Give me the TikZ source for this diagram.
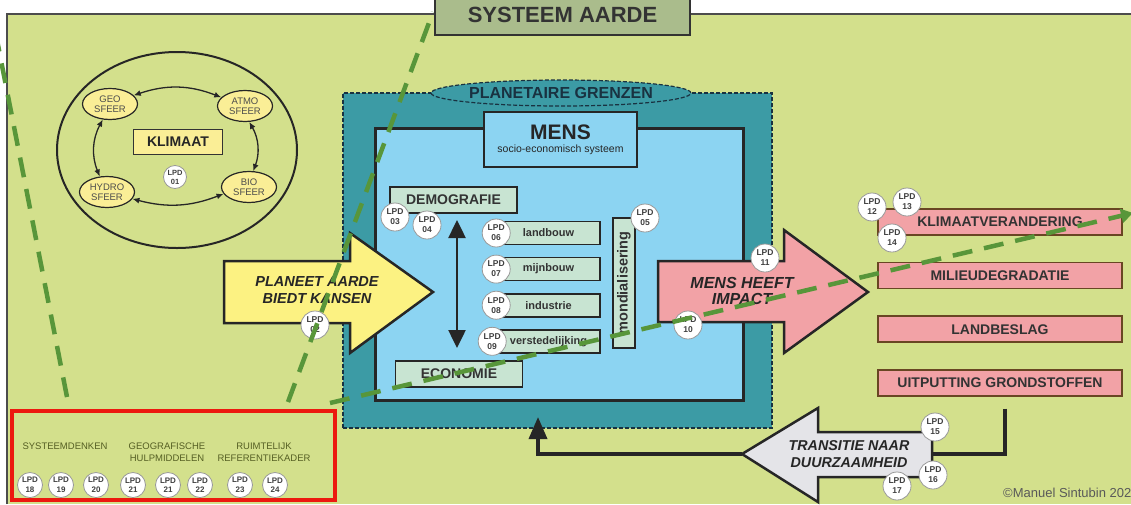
\documentclass[tikz,border=0pt]{standalone}
\usepackage{fontspec}
\setmainfont{Liberation Sans}
\usetikzlibrary{shapes.geometric, arrows.meta, positioning, calc}

\definecolor{aarde}{RGB}{211,224,140}
\definecolor{kader}{RGB}{170,188,140}
\definecolor{grens}{RGB}{60,155,165}
\definecolor{grensrand}{RGB}{25,50,65}
\definecolor{mensblauw}{RGB}{140,212,242}
\definecolor{sectormint}{RGB}{200,228,210}
\definecolor{geel}{RGB}{252,242,130}
\definecolor{sfeergeel}{RGB}{250,238,150}
\definecolor{roze}{RGB}{242,162,166}
\definecolor{transgrijs}{RGB}{228,228,232}
\definecolor{zoomgroen}{RGB}{88,150,58}
\definecolor{rood}{RGB}{236,25,15}
\definecolor{olijf}{RGB}{85,95,35}

\begin{document}
\begin{tikzpicture}[x=1pt, y=-1pt,
        sfeer/.style={ellipse, draw=black!85, line width=1.2pt, fill=sfeergeel, minimum width=55pt, minimum height=31pt, inner sep=0pt, align=center, font=\fontsize{9.5}{10.5}\selectfont, text=black!70},
        kring/.style={{Latex[length=7pt,width=6pt]}-{Latex[length=7pt,width=6pt]}, line width=1.3pt, draw=black!85},
        kop/.style={rectangle, draw=black!85, line width=1.6pt, fill=sectormint, minimum width=127pt, minimum height=26pt, inner sep=0pt, font=\bfseries\fontsize{14}{15}\selectfont, text=black!80},
        sector/.style={rectangle, draw=black!85, line width=1.6pt, fill=sectormint, minimum width=103pt, minimum height=23pt, inner sep=0pt, font=\bfseries\fontsize{11}{12}\selectfont, text=black!80},
        gevolg/.style={rectangle, draw=brown!55!black, line width=1.6pt, fill=roze, minimum width=244pt, minimum height=26pt, inner sep=0pt, font=\bfseries\fontsize{14}{15}\selectfont, text=black!80},
        lpd/.style={circle, draw=black!40, line width=0.8pt, fill=white, minimum size=28pt, inner sep=0pt, align=center, font=\bfseries\fontsize{8.5}{10}\selectfont, text=black!75},
        pijltekst/.style={align=center, font=\bfseries\itshape\fontsize{14.5}{17}\selectfont, text=black!85},
        dikpijl/.style={draw=black!85, line width=2.5pt, line join=miter},
        terug/.style={draw=black!85, line width=3.5pt},
        zoomlijn/.style={draw=zoomgroen, line width=4.5pt, dash pattern=on 20pt off 12pt},
        leerlijn/.style={align=center, anchor=north, inner sep=0pt, font=\fontsize{9.5}{12}\selectfont, text=olijf}
    ]
        \useasboundingbox (0,0) rectangle (1131,504);
        \fill[white] (0,0) rectangle (1131,504);
        \fill[aarde] (7,14) rectangle (1131,504);
        \draw[black!70, line width=1.5pt] (7,504) |- (1131,14);

        \node[ellipse, draw=black!85, line width=2pt, minimum width=240pt, minimum height=196pt] (klimaatkring) at (177,150) {};
        \node[sfeer] (geo) at (110,104) {GEO\\SFEER};
        \node[sfeer] (atmo) at (245,106) {ATMO\\SFEER};
        \node[sfeer] (hydro) at (107,192) {HYDRO\\SFEER};
        \node[sfeer] (bio) at (249,187) {BIO\\SFEER};
        \node[rectangle, draw=black!80, line width=1.2pt, fill=sfeergeel, minimum width=89pt, minimum height=25pt, font=\bfseries\fontsize{14}{15}\selectfont, text=black!85] (klimaat) at (178,142) {KLIMAAT};
        \node[lpd, minimum size=23pt, font=\bfseries\fontsize{7.5}{9}\selectfont] (lpd01) at (175,177) {LPD\\01};

        \draw[kring] (geo.20) to[bend left=20] (atmo.160);
        \draw[kring] (atmo.-75) to[bend left=25] (bio.75);
        \draw[kring] (bio.195) to[bend left=18] (hydro.-15);
        \draw[kring] (hydro.115) to[bend left=25] (geo.-115);

        \node[rectangle, draw=grensrand, dash pattern=on 4pt off 2pt, line width=1.2pt, fill=grens, minimum width=429pt, minimum height=335pt, inner sep=0pt] (grenzen) at (557.5,260.5) {};
        \node[ellipse, draw=grensrand, dash pattern=on 4pt off 2pt, line width=1.2pt, fill=grens, minimum width=232pt, minimum height=26pt, inner sep=0pt, font=\bfseries\fontsize{16}{17}\selectfont, text=grensrand] (grenslabel) at (561,93) {PLANETAIRE GRENZEN};

        \node[rectangle, draw=black!85, line width=3pt, fill=mensblauw, minimum width=368pt, minimum height=272pt] (mensveld) at (559,264) {};
        \node[rectangle, draw=black!85, line width=2.2pt, fill=mensblauw, minimum width=153pt, minimum height=55pt, align=center, text=black!85] (mens) at (560.5,139.5) {{\bfseries\fontsize{21}{22}\selectfont MENS}\\[1pt]{\fontsize{10.5}{12}\selectfont socio-economisch systeem}};

        \node[kop] (demografie) at (453.5,200) {DEMOGRAFIE};
        \node[kop] (economie) at (459,374) {ECONOMIE};
        \coordinate (dem-pijl) at (457,220);
        \coordinate (eco-pijl) at (457,348);
        \draw[{Triangle[length=18pt,width=17pt]}-{Triangle[length=18pt,width=17pt]}, line width=2.5pt, draw=black!85] (dem-pijl) -- (eco-pijl);

        \node[sector] (landbouw) at (548.5,233) {landbouw};
        \node[sector, below=11.5pt of landbouw] (mijnbouw) {mijnbouw};
        \node[sector, below=11.5pt of mijnbouw] (industrie) {industrie};
        \node[sector, below=11.5pt of industrie] (verstedelijking) {verstedelijking};
        \node[sector, rotate=90, minimum width=130pt, minimum height=22pt, font=\bfseries\fontsize{14.5}{15}\selectfont] (mondialisering) at (624,283) {mondialisering};

        \draw[dikpijl, fill=geel] (224,261) -- (350,261) -- (350,233) -- (433,292) -- (350,353) -- (350,323) -- (224,323) -- cycle;
        \node[pijltekst] (kansen) at (317,290) {PLANEET AARDE\\BIEDT KANSEN};
        \draw[dikpijl, fill=roze] (658,261) -- (784,261) -- (784,230) -- (868,292) -- (784,353) -- (784,322) -- (658,322) -- cycle;
        \node[pijltekst, font=\bfseries\itshape\fontsize{16}{16}\selectfont] (impact) at (742,291) {MENS HEEFT\\IMPACT};

        \node[gevolg] (klimaatverandering) at (1000,222) {KLIMAATVERANDERING};
        \node[gevolg, below=26pt of klimaatverandering] (milieudegradatie) {MILIEUDEGRADATIE};
        \node[gevolg, below=26pt of milieudegradatie] (landbeslag) {LANDBESLAG};
        \node[gevolg, below=26pt of landbeslag] (uitputting) {UITPUTTING GRONDSTOFFEN};

        \coordinate (trans-staart) at (932,454);
        \coordinate (trans-punt) at (742,454);
        \coordinate (mens-in) at (538,417);
        \draw[terug] ([shift={(5,12)}]uitputting.south) |- (trans-staart);
        \draw[terug, -{Triangle[length=22pt,width=18pt]}] (trans-punt) -| (mens-in);
        \draw[dikpijl, fill=transgrijs] (742,454) -- (818,408) -- (818,432) -- (932,432) -- (932,477) -- (818,477) -- (818,502) -- cycle;
        \node[pijltekst, font=\bfseries\itshape\fontsize{14.3}{17}\selectfont] (transitie) at (849,454) {TRANSITIE NAAR\\DUURZAAMHEID};

        \node[lpd] (lpd02) at (315,325) {LPD\\02};
        \node[lpd] (lpd03) at (395,217) {LPD\\03};
        \node[lpd] (lpd04) at (427,225) {LPD\\04};
        \node[lpd] (lpd05) at (645,218) {LPD\\05};
        \node[lpd] (lpd06) at (landbouw.west) {LPD\\06};
        \node[lpd] (lpd07) at (mijnbouw.west) {LPD\\07};
        \node[lpd] (lpd08) at (industrie.west) {LPD\\08};
        \node[lpd] (lpd09) at ([xshift=-4pt]verstedelijking.west) {LPD\\09};
        \node[lpd] (lpd10) at (688,325) {LPD\\10};
        \node[lpd] (lpd11) at (765,258) {LPD\\11};
        \node[lpd] (lpd12) at (872,207) {LPD\\12};
        \node[lpd] (lpd13) at (907,202) {LPD\\13};
        \node[lpd] (lpd14) at (892,238) {LPD\\14};
        \node[lpd] (lpd15) at (935,427) {LPD\\15};
        \node[lpd] (lpd16) at (933,475) {LPD\\16};
        \node[lpd] (lpd17) at (897,486) {LPD\\17};

        \node[draw=rood, line width=4.5pt, minimum width=323pt, minimum height=89pt] (vaardigheden) at (173.5,455.5) {};
        \node[leerlijn] (systeemdenken) at (65,443) {SYSTEEMDENKEN};
        \node[leerlijn] (hulpmiddelen) at (167,443) {GEOGRAFISCHE\\HULPMIDDELEN};
        \node[leerlijn] (referentiekader) at (264,443) {RUIMTELIJK\\REFERENTIEKADER};
        \foreach \x/\n in {30/18, 61/19, 96/20, 133/21, 168/21, 200/22, 240/23, 275/24}
            \node[lpd, minimum size=25pt, font=\bfseries\fontsize{8}{9.5}\selectfont] (lpd\n-\x) at (\x,485) {LPD\\\n};

        \node[anchor=west, inner sep=0pt, font=\fontsize{13}{14}\selectfont, text=black!65] (copyright) at (1003,493) {\textcopyright Manuel Sintubin 202};

        \coordinate (zoom1-a) at (67,397);
        \coordinate (zoom1-b) at (-3,40);
        \coordinate (zoom2-a) at (288,402);
        \coordinate (zoom2-b) at (433,12);
        \coordinate (zoom3-a) at (330,403);
        \coordinate (zoom3-b) at (1133,213);
        \draw[zoomlijn] (zoom1-a) -- (zoom1-b);
        \draw[zoomlijn] (zoom2-a) -- (zoom2-b);
        \draw[zoomlijn, -{Triangle[length=12pt,width=14pt]}] (zoom3-a) -- (zoom3-b);

        \node[draw=black!80, line width=1.5pt, fill=kader, minimum width=255pt, minimum height=40pt, font=\bfseries\fontsize{22}{24}\selectfont, text=black!80] (systeem) at (562.5,15) {SYSTEEM AARDE};
    \end{tikzpicture}
\end{document}
